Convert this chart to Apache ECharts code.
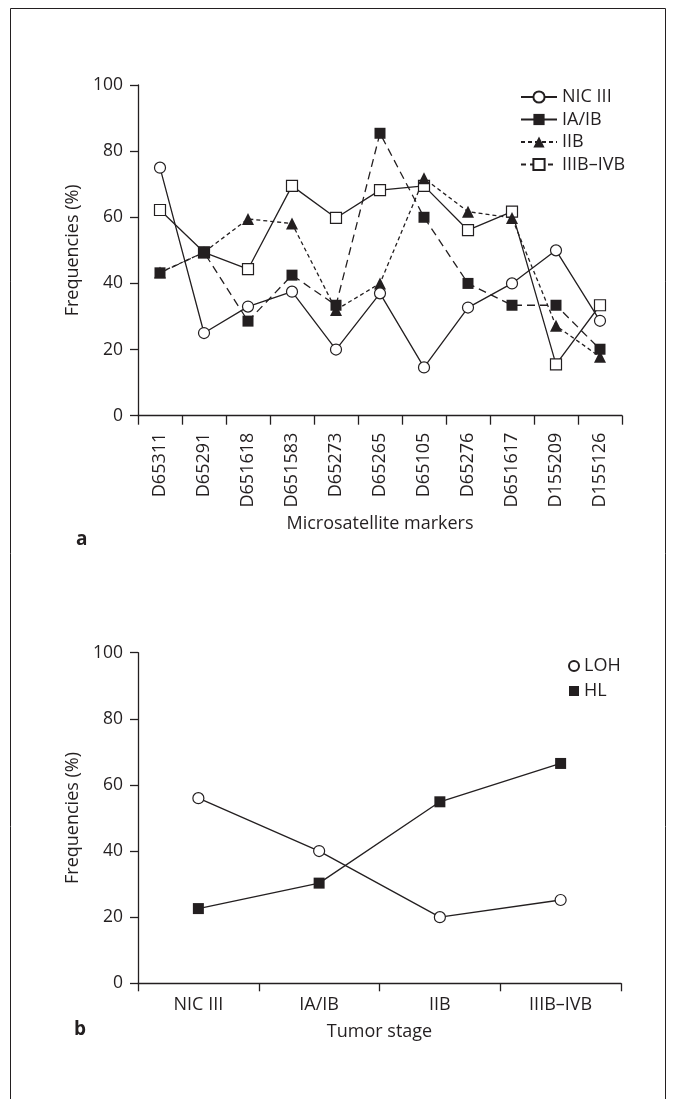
<!DOCTYPE html>
<html>
<head>
<meta charset="utf-8">
<script src="https://cdn.jsdelivr.net/npm/echarts@6/dist/echarts.min.js"></script>
<style>
html,body{margin:0;padding:0;background:#fff;}
#c{width:674px;height:1099px;}
</style>
</head>
<body>
<div id="c"></div>
<script>
// ---- Data ----
const markers = ['D65311','D65291','D651618','D651583','D65273','D65265','D65105','D65276','D651617','D155209','D155126'];
const nicIII = [75, 25, 33, 37.5, 20, 37, 14.6, 32.7, 40, 50, 28.7];
const iaib   = [43.2, 49.4, 28.6, 42.5, 33.4, 85.4, 60, 40, 33.4, 33.4, 20.1];
const iib    = [43.3, 49.4, 59.5, 58.1, 32, 40, 71.8, 61.7, 59.8, 27.2, 17.8];
const iiibivb= [62.2, 49.4, 44.3, 69.5, 59.8, 68.2, 69.5, 56.1, 61.7, 15.5, 33.4];

const stages = ['NIC III','IA/IB','IIB','IIIB–IVB'];
const loh = [56, 40, 20, 25.2];
const hl  = [22.6, 30.3, 54.9, 66.5];

const yTicks = [0, 20, 40, 60, 80, 100];

// ---- Style ----
const INK = '#231f20';
const FONT = 'Open Sans';
const FS = 18;

const chart = echarts.init(document.getElementById('c'), null, {renderer:'canvas'});

function yAxis(gridIndex){
  return {
    type:'value', gridIndex, min: yTicks[0], max: yTicks[yTicks.length-1], interval: 20,
    name:'Frequencies (%)', nameLocation:'middle', nameGap:47, nameRotate:90,
    nameTextStyle:{fontFamily:FONT, fontSize:FS, color:INK},
    axisLine:{show:true, lineStyle:{color:INK, width:1.3}},
    axisTick:{show:true, inside:false, length:8, lineStyle:{color:INK, width:1.3}},
    axisLabel:{margin:15, fontFamily:FONT, fontSize:17.5, color:INK},
    splitLine:{show:false}
  };
}

const lineW = 1.3;
const option = {
  animation:false,
  backgroundColor:'#fff',
  textStyle:{fontFamily:FONT, color:INK},
  grid:[
    {left:138, right:52, top:85, height:330.7},
    {left:138, right:53, top:652.7, height:330.6}
  ],
  xAxis:[
    {
      type:'category', gridIndex:0, data:markers, boundaryGap:true,
      name:'Microsatellite markers', nameLocation:'middle', nameGap:99,
      nameTextStyle:{fontFamily:FONT, fontSize:FS, color:INK},
      axisLine:{lineStyle:{color:INK, width:1.3}},
      axisTick:{show:true, length:9, alignWithLabel:false, lineStyle:{color:INK, width:1.3}},
      axisLabel:{rotate:90, margin:17, fontFamily:FONT, fontSize:FS, color:INK, interval:0}
    },
    {
      type:'category', gridIndex:1, data:stages, boundaryGap:true,
      name:'Tumor stage', nameLocation:'middle', nameGap:40,
      nameTextStyle:{fontFamily:FONT, fontSize:FS, color:INK},
      axisLine:{lineStyle:{color:INK, width:1.3}},
      axisTick:{show:true, length:8, lineStyle:{color:INK, width:1.3}},
      axisLabel:{margin:13, fontFamily:FONT, fontSize:FS, color:INK, interval:0}
    }
  ],
  yAxis:[ yAxis(0), yAxis(1) ],
  legend:[
    {
      orient:'vertical', left:515, top:83, itemWidth:36, itemHeight:14, itemGap:4.5,
      textStyle:{fontFamily:FONT, fontSize:FS, color:INK},
      data:[
        {name:'NIC III'},
        {name:'IA/IB', lineStyle:{type:'solid'}},
        {name:'IIB'},
        {name:'IIIB–IVB', lineStyle:{type:[5,4]}}
      ]
    },
    {
      orient:'vertical', left:563, top:652, itemWidth:10, itemHeight:10, itemGap:7,
      textStyle:{fontFamily:FONT, fontSize:FS, color:INK},
      data:[ {name:'LOH', icon:'circle'}, {name:'HL', icon:'rect'} ]
    }
  ],
  series:[
    {
      name:'IIIB–IVB', type:'line', xAxisIndex:0, yAxisIndex:0, data:iiibivb,
      symbol:'rect', symbolSize:11,
      lineStyle:{color:INK, width:lineW, type:'solid'},
      itemStyle:{color:'#fff', borderColor:INK, borderWidth:1.2}
    },
    {
      name:'IIB', type:'line', xAxisIndex:0, yAxisIndex:0, data:iib,
      symbol:'triangle', symbolSize:12,
      lineStyle:{color:INK, width:lineW, type:[4,3]},
      itemStyle:{color:INK, borderColor:INK, borderWidth:0}
    },
    {
      name:'IA/IB', type:'line', xAxisIndex:0, yAxisIndex:0, data:iaib,
      symbol:'rect', symbolSize:11,
      lineStyle:{color:INK, width:lineW, type:[8,5]},
      itemStyle:{color:INK, borderColor:INK, borderWidth:0}
    },
    {
      name:'NIC III', type:'line', xAxisIndex:0, yAxisIndex:0, data:nicIII,
      symbol:'circle', symbolSize:11,
      lineStyle:{color:INK, width:lineW, type:'solid'},
      itemStyle:{color:'#fff', borderColor:INK, borderWidth:1.2}
    },
    {
      name:'HL', type:'line', xAxisIndex:1, yAxisIndex:1, data:hl,
      symbol:'rect', symbolSize:11,
      lineStyle:{color:INK, width:lineW},
      itemStyle:{color:INK, borderColor:INK, borderWidth:0}
    },
    {
      name:'LOH', type:'line', xAxisIndex:1, yAxisIndex:1, data:loh,
      symbol:'circle', symbolSize:11,
      lineStyle:{color:INK, width:lineW},
      itemStyle:{color:'#fff', borderColor:INK, borderWidth:1.2}
    }
  ],
  graphic:[
    {type:'polyline', silent:true, shape:{points:[[10.5,1099],[10.5,8.5],[665.5,8.5],[665.5,1099]]},
     style:{stroke:INK, lineWidth:1, fill:null}},
    {type:'text', left:76, top:530, style:{text:'a', font:'bold 19px "Open Sans"', fill:INK}},
    {type:'text', left:74, top:1020, style:{text:'b', font:'bold 19px "Open Sans"', fill:INK}}
  ]
};
chart.setOption(option);
</script>
</body>
</html>
